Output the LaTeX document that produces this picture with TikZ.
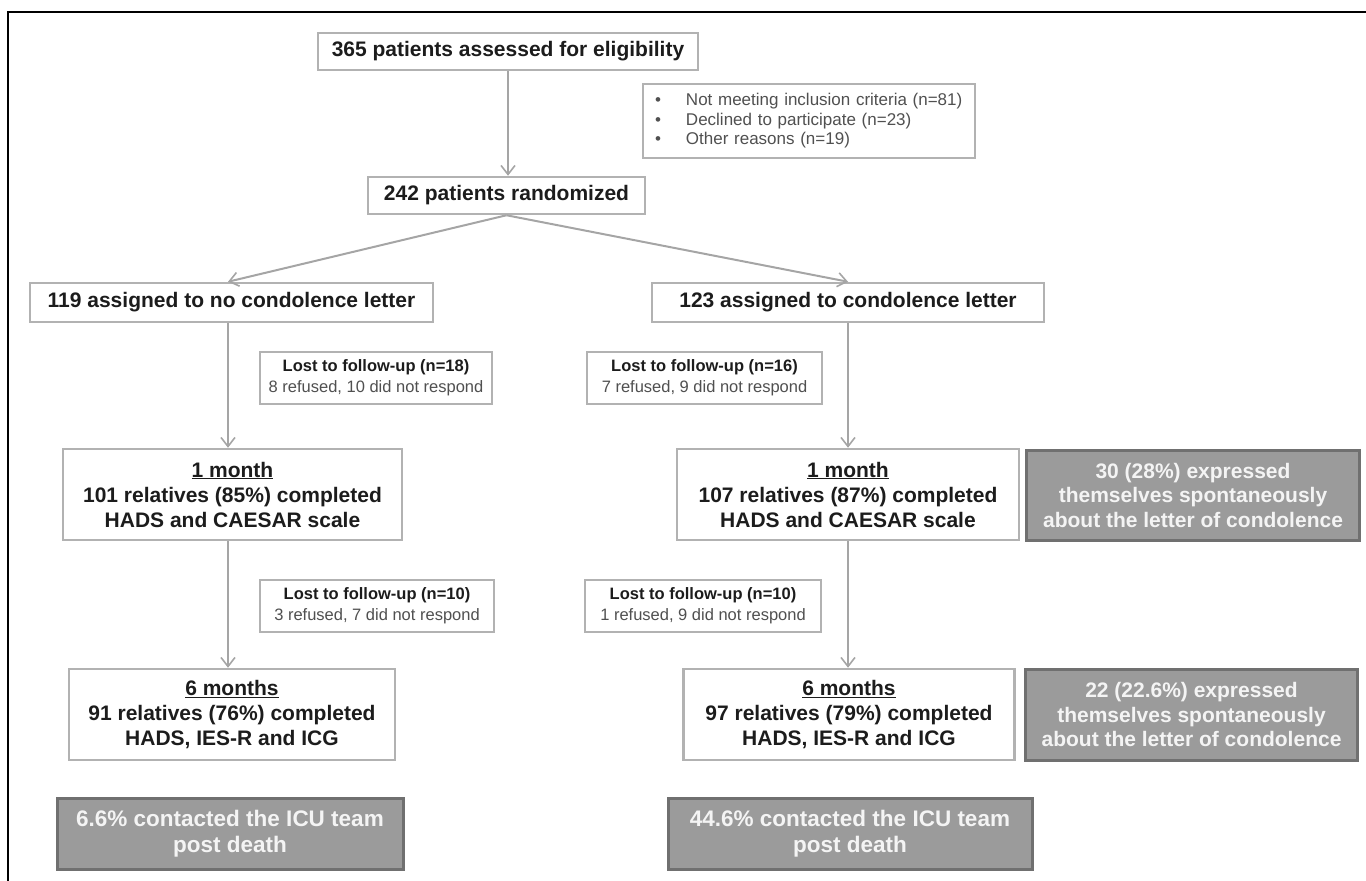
\documentclass[tikz,border=0pt]{standalone}
\usepackage{fontspec}
\setmainfont{Liberation Sans}
\usetikzlibrary{arrows.meta}
\definecolor{bordergray}{RGB}{178,178,178}
\definecolor{linegray}{RGB}{165,165,165}
\definecolor{fillgray}{RGB}{155,155,155}
\definecolor{darkborder}{RGB}{112,112,112}
\definecolor{whitetext}{RGB}{244,244,244}
\definecolor{maintext}{RGB}{28,28,28}
\definecolor{subtext}{RGB}{80,80,80}
\tikzset{
  mainbox/.style={draw=bordergray, line width=2.5pt, fill=white, inner sep=0pt,
    align=center, text=maintext, font=\fontsize{21}{25}\selectfont\bfseries},
  lostbox/.style={draw=bordergray, line width=1.8pt, fill=white, inner sep=0pt,
    align=center, font=\fontsize{16.5}{21}\selectfont},
  exclbox/.style={draw=bordergray, line width=1.8pt, fill=white, inner xsep=12pt, inner ysep=0pt,
    text width=308pt, minimum height=74pt, align=left, text=subtext,
    font=\fontsize{17}{19.5}\selectfont},
  graybox/.style={draw=darkborder, line width=3pt, fill=fillgray, inner sep=0pt,
    align=center, text=whitetext, font=\fontsize{21}{24.5}\selectfont\bfseries},
  contactbox/.style={graybox, font=\fontsize{22.5}{26}\selectfont\bfseries},
  flow/.style={draw=linegray, line width=1.8pt, -{Straight Barb[length=9pt,width=14pt,line width=1.6pt]}},
  split/.style={draw=linegray, line width=2pt, -{Straight Barb[length=9pt,width=14pt,line width=1.6pt]}}
}
\begin{document}
\begin{tikzpicture}[x=1pt,y=-1pt]
\useasboundingbox (0,0) rectangle (1366,881);
% frame
\draw[black, line width=2pt] (8,881) -- (8,12) -- (1366,12);

\node[mainbox, minimum width=380pt, minimum height=37pt] (assess) at (508,51.5) {365 patients assessed for eligibility};

\node[exclbox] (excl) at (809,121)
  {\makebox[31pt][l]{\textbullet}Not meeting inclusion criteria (n=81)\\
   \makebox[31pt][l]{\textbullet}Declined to participate (n=23)\\
   \makebox[31pt][l]{\textbullet}Other reasons (n=19)};

\node[mainbox, minimum width=277pt, minimum height=37pt] (rand) at (506.5,195.5) {242 patients randomized};

\node[mainbox, minimum width=403pt, minimum height=39pt] (noletter) at (231.5,302.5) {119 assigned to no condolence letter};
\node[mainbox, minimum width=392pt, minimum height=39pt] (letter) at (848,302.5) {123 assigned to condolence letter};

\node[lostbox, minimum width=232pt, minimum height=52pt] (lostL1) at (376,378)
  {\textcolor{maintext}{\bfseries Lost to follow-up (n=18)}\\\textcolor{subtext}{8 refused, 10 did not respond}};
\node[lostbox, minimum width=235pt, minimum height=52pt] (lostR1) at (704.5,378)
  {\textcolor{maintext}{\bfseries Lost to follow-up (n=16)}\\\textcolor{subtext}{7 refused, 9 did not respond}};

\node[mainbox, minimum width=339pt, minimum height=91pt] (monthL) at (232.5,494.5)
  {\underline{1 month}\\101 relatives (85\%) completed\\HADS and CAESAR scale};
\node[mainbox, minimum width=342pt, minimum height=91pt] (monthR) at (848,494.5)
  {\underline{1 month}\\107 relatives (87\%) completed\\HADS and CAESAR scale};
\node[graybox, minimum width=333pt, minimum height=90pt] (exprA) at (1193,495)
  {30 (28\%) expressed\\themselves spontaneously\\about the letter of condolence};

\node[lostbox, minimum width=234pt, minimum height=52pt] (lostL2) at (377,606)
  {\textcolor{maintext}{\bfseries Lost to follow-up (n=10)}\\\textcolor{subtext}{3 refused, 7 did not respond}};
\node[lostbox, minimum width=236pt, minimum height=52pt] (lostR2) at (703,606)
  {\textcolor{maintext}{\bfseries Lost to follow-up (n=10)}\\\textcolor{subtext}{1 refused, 9 did not respond}};

\node[mainbox, minimum width=326pt, minimum height=91pt] (sixL) at (232,714.5)
  {\underline{6 months}\\91 relatives (76\%) completed\\HADS, IES-R and ICG};
\node[mainbox, minimum width=331pt, minimum height=91pt] (sixR) at (849,714.5)
  {\underline{6 months}\\97 relatives (79\%) completed\\HADS, IES-R and ICG};
\node[graybox, minimum width=332pt, minimum height=91pt] (exprB) at (1191.5,714.5)
  {22 (22.6\%) expressed\\themselves spontaneously\\about the letter of condolence};

\node[contactbox, minimum width=346pt, minimum height=71pt] (contL) at (230,834)
  {6.6\% contacted the ICU team\\post death};
\node[contactbox, minimum width=364pt, minimum height=71pt] (contR) at (850,834)
  {44.6\% contacted the ICU team\\post death};

% connectors
\draw[flow] (assess.south) -- (assess.south |- rand.north);
\draw[split] (rand.south) -- ([xshift=-3.5pt]noletter.north);
\draw[split] (rand.south) -- (letter.north);
\draw[flow] ([xshift=-3.5pt]noletter.south) -- ([xshift=-3.5pt]noletter.south |- monthL.north);
\draw[flow] ([xshift=-4.5pt]monthL.south) -- ([xshift=-4.5pt]monthL.south |- sixL.north);
\draw[flow] (letter.south) -- (letter.south |- monthR.north);
\draw[flow] (monthR.south) -- (monthR.south |- sixR.north);
\end{tikzpicture}
\end{document}
